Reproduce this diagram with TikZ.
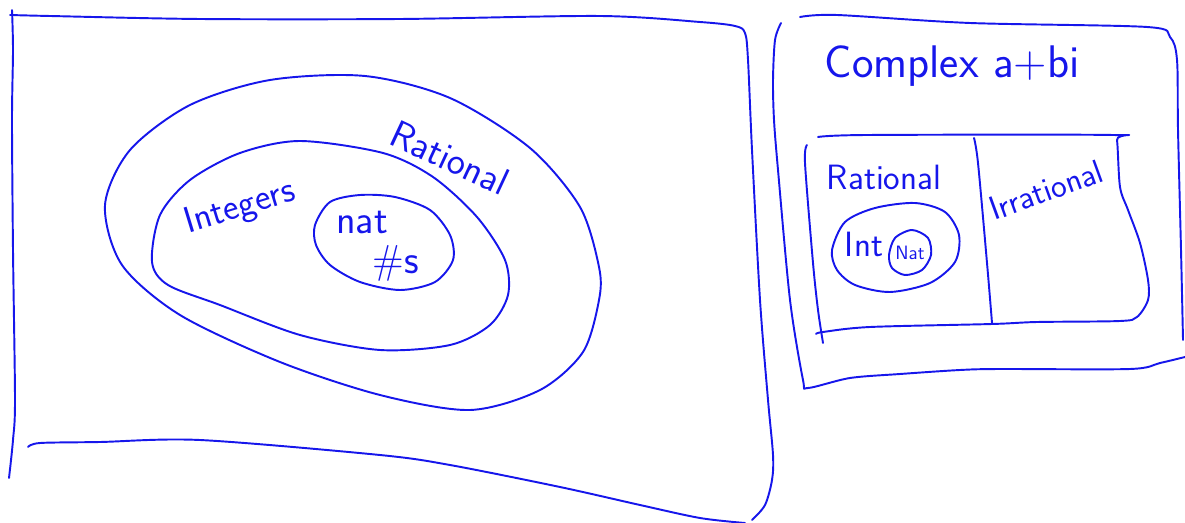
\documentclass[tikz,border=0pt]{standalone}
\usepackage{fontspec}
\definecolor{pen}{RGB}{22,22,235}
\newcommand{\hand}[1]{\fontsize{#1}{#1}\selectfont\sffamily}

\begin{document}
\begin{tikzpicture}
[x=0.02cm, y=-0.02cm, color=pen, line width=1.1pt, line cap=round, line join=round,
 every node/.style={inner sep=0pt, align=center}]
\useasboundingbox (0,0) rectangle (1185,523);
\draw plot[smooth] coordinates {(12,10) (13,50) (12,120) (13,250) (15,400) (13,440) (9,478)};
\draw plot[smooth] coordinates {(10,15) (50,16) (200,19) (400,19) (600,16) (700,22) (735,26) (745,33) (748,60) (752,150) (760,300) (768,400) (773,455) (772,480) (765,505) (752,520)};
\draw plot[smooth] coordinates {(28,447) (40,443) (100,442) (200,440) (380,455) (450,465) (560,487) (640,505) (700,518) (745,523)};
\draw plot[smooth cycle] coordinates {(105,205) (130,150) (190,105) (270,80) (365,76) (450,98) (530,148) (580,207) (599,267) (599,300) (583,352) (540,390) (470,410) (380,395) (280,362) (180,315) (122,265)};
\draw plot[smooth cycle] coordinates {(152,262) (160,215) (190,180) (240,153) (300,141) (383,153) (433,177) (477,217) (505,260) (508,295) (490,325) (450,345) (380,350) (300,335) (220,305) (168,285)};
\draw plot[smooth cycle] coordinates {(315,225) (330,202) (360,195) (395,197) (430,210) (450,235) (453,260) (435,282) (400,290) (360,282) (330,265) (316,245)};
\node (rat) at (450,158) [rotate=-25] {\hand{22pt}Rational};
\node (int) at (240,208) [rotate=17] {\hand{21pt}Integers};
\node (nat) at (362,222) {\hand{23pt}nat};
\node (nums) at (396,263) {\hand{23pt}\#s};
\draw plot[smooth] coordinates {(781,23) (775,40) (773,80) (774,120) (778,170) (790,300) (803,380) (808,388) (850,378) (900,374) (960,370) (1000,369) (1130,369) (1160,363) (1185,357)};
\draw plot[smooth] coordinates {(800,17) (837,15) (970,23) (1147,27) (1170,37) (1177,60) (1178,130) (1181,250) (1183,340)};
\draw plot[smooth] coordinates {(807,145) (805,163) (813,263) (818,310) (823,343)};
\draw plot[smooth] coordinates {(818,137) (867,135) (1113,135) (1117,140) (1120,187) (1128,210) (1140,243) (1148,280) (1148,300) (1137,317) (1120,321) (1037,322) (992,324) (870,327) (823,332) (816,334)};
\draw plot[smooth] coordinates {(974,138) (978,163) (987,263) (992,323)};
\draw plot[smooth cycle] coordinates {(832,250) (845,222) (875,208) (915,203) (945,212) (959,235) (955,262) (930,283) (890,292) (855,285) (837,270)};
\draw plot[smooth cycle] coordinates {(889,255) (895,238) (912,230) (928,238) (931,255) (922,270) (905,275) (892,268)};
\node (cplx) at (952,66) {\hand{26pt}Complex a+bi};
\node (rat2) at (884,177) {\hand{20pt}Rational};
\node (irr) at (1046,190) [rotate=20] {\hand{19pt}Irrational};
\node (int2) at (864,244) {\hand{20pt}Int};
\node (nat2) at (910,253) {\hand{11pt}Nat};
\end{tikzpicture}
\end{document}
